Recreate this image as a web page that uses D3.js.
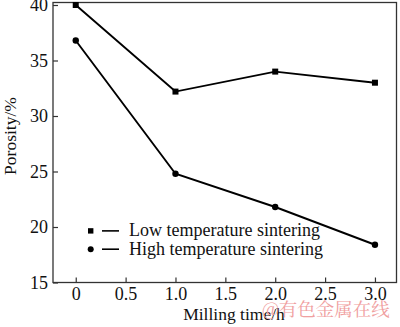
<!DOCTYPE html>
<html><head><meta charset="utf-8">
<script src="https://d3js.org/d3.v7.min.js"></script>
<style>body{margin:0;background:#fff}svg{display:block}
.serif{font-family:"Liberation Serif","Times New Roman",serif}</style>
</head><body>
<script>
const millingTime = [0, 1.0, 2.0, 3.0];
const lowTemp = [40.0, 32.2, 34.0, 33.0];
const highTemp = [36.8, 24.8, 21.8, 18.4];
const xTicks = [0, 0.5, 1.0, 1.5, 2.0, 2.5, 3.0];
const xTickLabels = ["0", "0.5", "1.0", "1.5", "2.0", "2.5", "3.0"];
const yTicks = [15, 20, 25, 30, 35, 40];
const seriesNames = ["Low temperature sintering", "High temperature sintering"];

const W = 400, H = 327;
const L = 53, R = 396.5, T = 2.5, B = 282.5;
const svg = d3.select("body").append("svg").attr("width", W).attr("height", H);

const x = d3.scaleLinear().domain([-0.228, 3.216]).range([L, R]);
const y = d3.scaleLinear().domain([15, 40.225]).range([B, T]);

// frame
svg.append("rect").attr("x", L).attr("y", T).attr("width", R - L).attr("height", B - T)
  .attr("fill", "none").attr("stroke", "#333").attr("stroke-width", 1.3);

// x axis
const xAxis = d3.axisBottom(x).tickValues(xTicks).tickSize(-5).tickPadding(5)
  .tickFormat((d, i) => xTickLabels[i]);
const gx = svg.append("g").attr("transform", `translate(0,${B})`).call(xAxis);
gx.attr("font-family", null).attr("font-size", null);
gx.select(".domain").remove();
gx.selectAll("line").attr("stroke", "#333").attr("stroke-width", 1.2);
gx.selectAll("text").attr("class", "serif").style("font-size", "18px").attr("fill", "#111");

// y axis
const yAxis = d3.axisLeft(y).tickValues(yTicks).tickSize(-5).tickPadding(5);
const gy = svg.append("g").attr("transform", `translate(${L},0)`).call(yAxis);
gy.attr("font-family", null).attr("font-size", null);
gy.select(".domain").remove();
gy.selectAll("line").attr("stroke", "#333").attr("stroke-width", 1.2);
gy.selectAll("text").attr("class", "serif").style("font-size", "18px").attr("fill", "#111");

// lines
const line = d3.line().x((d, i) => x(millingTime[i])).y(d => y(d));
[lowTemp, highTemp].forEach(s => {
  svg.append("path").datum(s).attr("d", line).attr("fill", "none")
    .attr("stroke", "#000").attr("stroke-width", 1.9);
});
svg.selectAll(".sq").data(lowTemp).enter().append("rect")
  .attr("x", (d, i) => x(millingTime[i]) - 3).attr("y", d => y(d) - 3)
  .attr("width", 6).attr("height", 6).attr("fill", "#000");
svg.selectAll(".ci").data(highTemp).enter().append("circle")
  .attr("cx", (d, i) => x(millingTime[i])).attr("cy", d => y(d)).attr("r", 3.2).attr("fill", "#000");

// legend
const legY = [y(19.65), y(18.0)];
seriesNames.forEach((name, i) => {
  const cy = legY[i];
  if (i === 0) svg.append("rect").attr("x", 88).attr("y", cy - 2.7).attr("width", 5.4).attr("height", 5.4).attr("fill", "#000");
  else svg.append("circle").attr("cx", 90.7).attr("cy", cy).attr("r", 3).attr("fill", "#000");
  svg.append("line").attr("x1", 102).attr("x2", 119).attr("y1", cy).attr("y2", cy)
    .attr("stroke", "#000").attr("stroke-width", 1.6);
  svg.append("text").attr("class", "serif").attr("x", 129).attr("y", cy + 5.5)
    .style("font-size", "18px").attr("fill", "#111").text(name);
});

// axis titles
svg.append("text").attr("class", "serif").attr("x", 234).attr("y", 320).attr("text-anchor", "middle")
  .style("font-size", "17.5px").attr("fill", "#111").text("Milling time/h");
svg.append("text").attr("class", "serif").attr("transform", `translate(16,136) rotate(-90)`).attr("text-anchor", "middle")
  .style("font-size", "17.5px").attr("fill", "#111").text("Porosity/%");

// watermark
svg.append("text").attr("x", 262).attr("y", 316).style("font-family", '"Noto Serif CJK SC","Noto Sans CJK SC",serif')
  .style("font-size", "18.5px").attr("fill", "#f0a0a0").text("@有色金属在线");
</script>
</body></html>
